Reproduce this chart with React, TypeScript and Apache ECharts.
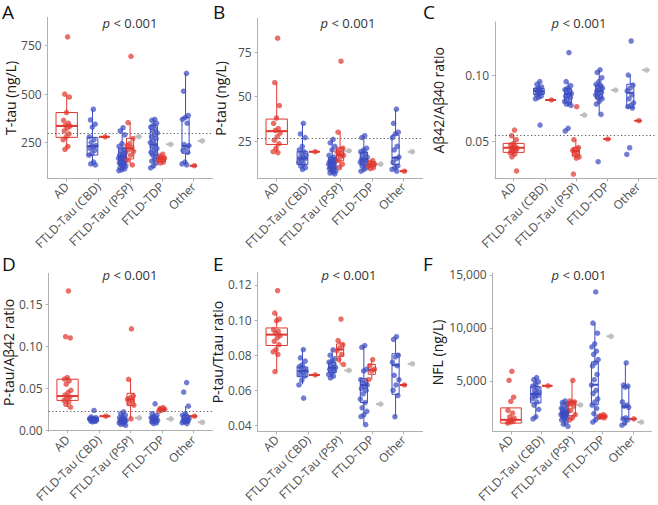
import React, { useEffect, useRef } from "react";
import * as echarts from "echarts";

const categories = ["AD", "FTLD-Tau (CBD)", "FTLD-Tau (PSP)", "FTLD-TDP", "Other"];
const pText = "{i|p} < 0.001";

// ---------- Panel A: T-tau (ng/L) ----------
const tTauNeg: number[][] = [
  [],
  [422, 367, 345, 330, 280, 265, 250, 235, 228, 220, 210, 195, 185, 150, 140, 135],
  [327, 310, 290, 245, 230, 215, 205, 200, 190, 185, 180, 175, 170, 165, 160, 155, 150, 145, 140, 135, 130, 125, 120, 115, 110, 105],
  [370, 365, 350, 340, 330, 320, 310, 300, 290, 280, 270, 260, 250, 240, 230, 220, 210, 200, 195, 185, 175, 165, 155, 145, 130, 120],
  [607, 515, 390, 380, 370, 350, 240, 235, 225, 210, 200, 150, 140, 135],
];
const tTauPos: number[][] = [
  [795, 500, 485, 405, 365, 350, 340, 335, 325, 310, 295, 280, 265, 230, 215],
  [280],
  [695, 353, 270, 245, 235, 225, 215, 205, 185, 160, 135],
  [190, 180, 170, 165, 160, 150, 145],
  [131],
];
const tTauUnk: number[][] = [[], [], [281], [241], [259]];
const tTauNegBox = [null, [131, 186, 232, 277, 422], [104, 138, 178, 221, 327], [118, 186, 240, 338, 370], [135, 195, 233, 379, 607]];
const tTauPosBox = [[212, 277, 336, 405, 500], null, [135, 166, 221, 272, 353], [140, 152, 166, 178, 190], null];
const tTauCutoff = 300;
const tTauTicks = [250, 500, 750];

// ---------- Panel B: P-tau (ng/L) ----------
const pTauNeg: number[][] = [
  [],
  [35, 29, 27, 22, 20, 19, 18, 17, 16, 15.5, 15, 14, 13, 12, 11, 10, 9],
  [26, 24, 22, 20, 17, 16, 15, 14.5, 14, 13.5, 13, 12.5, 12, 11.5, 11, 10.5, 10, 9.5, 9, 8.5, 8, 7.5, 7, 6.5],
  [28, 27, 21, 20, 19, 18, 17, 16, 15, 14.5, 14, 13.5, 13, 12, 11, 10, 9, 8],
  [43, 35, 30, 29, 27, 22, 20, 16, 15, 13, 11, 10, 9, 8],
];
const pTauPos: number[][] = [
  [83, 58, 45, 38, 35, 32, 31, 29.5, 27.5, 25.5, 23.5, 21, 19, 18.5],
  [19],
  [70, 30, 21, 20, 19, 18, 17.5, 17, 16, 14, 12, 10],
  [14, 13, 12, 11.5, 11, 10, 9.5],
  [8],
];
const pTauUnk: number[][] = [[], [], [19.5], [12], [19]];
const pTauNegBox = [null, [9, 11.8, 15.2, 19, 35], [6.5, 9.6, 13, 15.6, 26], [8, 11.5, 14.7, 18.6, 28], [8, 11.8, 15.6, 28.4, 43]];
const pTauPosBox = [[18.5, 23.1, 30.6, 37.4, 58], null, [10, 13.9, 17.1, 21.2, 30], [9.5, 10.5, 11.8, 13.3, 14], null];
const pTauCutoff = 26.5;
const pTauTicks = [25, 50, 75];

// ---------- Panel C: Aβ42/Aβ40 ratio ----------
const abNeg: number[][] = [
  [],
  [0.095, 0.093, 0.091, 0.09, 0.089, 0.088, 0.0875, 0.087, 0.086, 0.085, 0.084, 0.083, 0.082, 0.0621],
  [0.117, 0.095, 0.092, 0.09, 0.089, 0.088, 0.087, 0.086, 0.085, 0.084, 0.083, 0.082, 0.08, 0.079, 0.078, 0.077, 0.0596, 0.0576],
  [0.104, 0.102, 0.098, 0.095, 0.093, 0.092, 0.091, 0.09, 0.089, 0.088, 0.087, 0.086, 0.085, 0.084, 0.083, 0.082, 0.08, 0.078, 0.0702, 0.0343],
  [0.1258, 0.1, 0.0924, 0.09, 0.088, 0.085, 0.082, 0.079, 0.077, 0.076, 0.075, 0.0449, 0.0399],
];
const abPos: number[][] = [
  [0.0583, 0.054, 0.051, 0.048, 0.047, 0.046, 0.045, 0.0445, 0.044, 0.0435, 0.043, 0.042, 0.041, 0.04, 0.038, 0.0273],
  [0.0811],
  [0.076, 0.051, 0.045, 0.044, 0.043, 0.041, 0.04, 0.038, 0.037, 0.025],
  [0.0515],
  [0.0654],
];
const abUnk: number[][] = [[], [], [0.0697], [0.0886], [0.1038]];
const abNegBox = [null, [0.082, 0.0853, 0.0879, 0.0899, 0.095], [0.076, 0.0793, 0.0856, 0.0899, 0.095], [0.0702, 0.0823, 0.088, 0.0924, 0.104], [0.075, 0.0752, 0.0866, 0.093, 0.1]];
const abPosBox = [[0.038, 0.0414, 0.0449, 0.0482, 0.054], null, [0.037, 0.0386, 0.0424, 0.0449, 0.051], null, null];
const abCutoff = 0.054;
const abTicks = [0.05, 0.1];

// ---------- Panel D: P-tau/Aβ42 ratio ----------
const ptabNeg: number[][] = [
  [],
  [0.0236, 0.016, 0.015, 0.014, 0.0135, 0.013, 0.0125, 0.012, 0.0115, 0.011, 0.0105, 0.01],
  [0.022, 0.02, 0.018, 0.016, 0.015, 0.014, 0.013, 0.012, 0.0115, 0.011, 0.0105, 0.01, 0.009, 0.008, 0.007, 0.006],
  [0.0316, 0.02, 0.018, 0.016, 0.015, 0.014, 0.013, 0.012, 0.011, 0.01, 0.009, 0.008],
  [0.0568, 0.0456, 0.0288, 0.02, 0.018, 0.016, 0.015, 0.014, 0.013, 0.012, 0.011, 0.01, 0.009, 0.008],
];
const ptabPos: number[][] = [
  [0.166, 0.1116, 0.11, 0.0628, 0.061, 0.0588, 0.055, 0.0476, 0.045, 0.042, 0.0396, 0.0376, 0.0356, 0.0336, 0.031, 0.0276],
  [0.0168],
  [0.1208, 0.0608, 0.041, 0.039, 0.037, 0.035, 0.033, 0.03, 0.0136],
  [0.027, 0.026, 0.025, 0.024, 0.023],
  [0.0168],
];
const ptabUnk: number[][] = [[], [], [0.0148], [0.0136], [0.0096]];
const ptabNegBox = [null, [0.01, 0.0116, 0.0136, 0.0156, 0.016], [0.006, 0.0088, 0.0116, 0.0148, 0.022], [0.008, 0.0088, 0.0128, 0.0168, 0.021], [0.008, 0.0088, 0.0128, 0.018, 0.0288]];
const ptabPosBox = [[0.0276, 0.0356, 0.0408, 0.0608, 0.0628], null, [0.0136, 0.0296, 0.0368, 0.044, 0.0608], [0.023, 0.0236, 0.0248, 0.0265, 0.027], null];
const ptabCutoff = 0.0224;
const ptabTicks = [0, 0.05, 0.1, 0.15];

// ---------- Panel E: P-tau/Ttau ratio ----------
const ratioNeg: number[][] = [
  [],
  [0.0832, 0.0785, 0.0766, 0.0745, 0.0735, 0.0725, 0.0715, 0.0709, 0.07, 0.069, 0.068, 0.0657, 0.063, 0.0555],
  [0.083, 0.08, 0.078, 0.077, 0.076, 0.075, 0.074, 0.073, 0.0725, 0.072, 0.071, 0.07, 0.069, 0.068, 0.067],
  [0.0855, 0.0845, 0.072, 0.071, 0.066, 0.065, 0.064, 0.063, 0.062, 0.061, 0.06, 0.058, 0.055, 0.053, 0.05, 0.048, 0.046, 0.045, 0.0404],
  [0.0905, 0.089, 0.08, 0.079, 0.076, 0.074, 0.0685, 0.066, 0.063, 0.06, 0.057, 0.0449],
];
const ratioPos: number[][] = [
  [0.1168, 0.104, 0.1006, 0.0996, 0.0945, 0.0936, 0.0926, 0.0911, 0.0898, 0.0879, 0.086, 0.0832, 0.0819, 0.0804, 0.0706],
  [0.0687],
  [0.1006, 0.0883, 0.086, 0.0842, 0.0826, 0.0804, 0.0775, 0.0747],
  [0.0775, 0.074, 0.072, 0.071, 0.066],
  [0.063],
];
const ratioUnk: number[][] = [[], [], [0.0713], [0.0521], [0.0751]];
const ratioNegBox = [null, [0.0634, 0.0677, 0.0709, 0.0732, 0.0832], [0.0672, 0.07, 0.0728, 0.076, 0.0832], [0.0404, 0.053, 0.063, 0.0666, 0.0855], [0.0449, 0.0577, 0.0743, 0.0808, 0.0905]];
const ratioPosBox = [[0.0706, 0.0855, 0.0917, 0.0955, 0.104], null, [0.0747, 0.0794, 0.0832, 0.0864, 0.0883], [0.066, 0.0691, 0.0717, 0.0747, 0.0775], null];
const ratioTicks = [0.04, 0.06, 0.08, 0.1, 0.12];

// ---------- Panel F: NFL (ng/L) ----------
const nflNeg: number[][] = [
  [],
  [5300, 5100, 4900, 4700, 4500, 4300, 4100, 3900, 3800, 3700, 3600, 3500, 3300, 3000, 2700, 2300, 1600, 1400],
  [3100, 2950, 2800, 2600, 2400, 2300, 2200, 2100, 2000, 1950, 1900, 1850, 1800, 1700, 1600, 1500, 1400, 1300, 1100, 900, 700],
  [13400, 10450, 9500, 8500, 8200, 7800, 7500, 7000, 6700, 6400, 5600, 5100, 4600, 4100, 3800, 3300, 3000, 2700, 2400, 1900, 1600, 1300, 1100],
  [6700, 4600, 4500, 4400, 3000, 2700, 2600, 2500, 1500, 1400, 1300, 1000, 800],
];
const nflPos: number[][] = [
  [5900, 5050, 3450, 3050, 2200, 1950, 1600, 1450, 1300, 1200, 1150, 1100, 1000],
  [4530],
  [5050, 3100, 3000, 2900, 2800, 2600, 2200, 1800, 1500, 1300],
  [1800, 1700, 1650, 1600, 1550, 1500],
  [1400],
];
const nflUnk: number[][] = [[], [], [2720], [9200], [1100]];
const nflNegBox = [null, [1400, 2900, 3750, 4440, 5300], [700, 1560, 2030, 2880, 3100], [1100, 2750, 4630, 6780, 10450], [800, 1400, 2560, 4440, 6700]];
const nflPosBox = [[1000, 1000, 1310, 2440, 2440], null, [1300, 1700, 2950, 3080, 5050], [1500, 1500, 1625, 1720, 1800], null];
const nflTicks = [5000, 10000, 15000];

const RED = "#e0382f";
const BLUE = "#3b4cc0";
const GREY = "#bdbdbd";
const FONT = "Open Sans";

const panels = [
  { letter: "A", yName: "T-tau (ng/L)", neg: tTauNeg, pos: tTauPos, unk: tTauUnk, negBox: tTauNegBox, posBox: tTauPosBox, ref: tTauCutoff, ticks: tTauTicks, fmt: (v: number) => String(v),
    left: 47.7, top: 17.3, width: 164.8, bottom: 178.5, yMin: 65, yMax: 896, nameGap: 30, pX: 130, pY: 25, lx: 2, ly: 2 },
  { letter: "B", yName: "P-tau (ng/L)", neg: pTauNeg, pos: pTauPos, unk: pTauUnk, negBox: pTauNegBox, posBox: pTauPosBox, ref: pTauCutoff, ticks: pTauTicks, fmt: (v: number) => String(v),
    left: 257.7, top: 18.3, width: 164.8, bottom: 178.5, yMin: 3.9, yMax: 94.2, nameGap: 30, pX: 348, pY: 25, lx: 213, ly: 2 },
  { letter: "C", yName: "Aβ42/Aβ40 ratio", neg: abNeg, pos: abPos, unk: abUnk, negBox: abNegBox, posBox: abPosBox, ref: abCutoff, ticks: abTicks, fmt: (v: number) => v.toFixed(2),
    left: 495, top: 22, width: 161.7, bottom: 178.5, yMin: 0.0216, yMax: 0.1402, nameGap: 50, pX: 579, pY: 25, lx: 423, ly: 2 },
  { letter: "D", yName: "P-tau/Aβ42 ratio", neg: ptabNeg, pos: ptabPos, unk: ptabUnk, negBox: ptabNegBox, posBox: ptabPosBox, ref: ptabCutoff, ticks: ptabTicks, fmt: (v: number) => v.toFixed(2),
    left: 47.7, top: 273.3, width: 164.8, bottom: 432.5, yMin: -0.0014, yMax: 0.187, nameGap: 30, pX: 130, pY: 277, lx: 2, ly: 254 },
  { letter: "E", yName: "P-tau/Ttau ratio", neg: ratioNeg, pos: ratioPos, unk: ratioUnk, negBox: ratioNegBox, posBox: ratioPosBox, ref: null, ticks: ratioTicks, fmt: (v: number) => v.toFixed(2),
    left: 257.7, top: 272.7, width: 164.8, bottom: 432.5, yMin: 0.0365, yMax: 0.127, nameGap: 30, pX: 349, pY: 277, lx: 213, ly: 254 },
  { letter: "F", yName: "NFL (ng/L)", neg: nflNeg, pos: nflPos, unk: nflUnk, negBox: nflNegBox, posBox: nflPosBox, ref: null, ticks: nflTicks, fmt: (v: number) => v.toLocaleString("en-US"),
    left: 492.7, top: 273.3, width: 158.6, bottom: 432.5, yMin: 210, yMax: 15160, nameGap: 48, pX: 579, pY: 277, lx: 423, ly: 254 },
];

const jitter = (i: number) => (((i + 1) * 0.6180339887) % 1) - 0.5;

function boxRenderer(color: string) {
  return (params: any, api: any) => {
    const x = api.value(0);
    const w = api.value(6);
    const lo = api.coord([x, api.value(1)]);
    const q1 = api.coord([x, api.value(2)]);
    const med = api.coord([x, api.value(3)]);
    const q3 = api.coord([x, api.value(4)]);
    const hi = api.coord([x, api.value(5)]);
    const l = api.coord([x - w / 2, api.value(3)])[0];
    const r = api.coord([x + w / 2, api.value(3)])[0];
    const st = { stroke: color, lineWidth: 1, fill: null };
    return {
      type: "group",
      children: [
        { type: "line", shape: { x1: hi[0], y1: hi[1], x2: q3[0], y2: q3[1] }, style: st },
        { type: "line", shape: { x1: q1[0], y1: q1[1], x2: lo[0], y2: lo[1] }, style: st },
        { type: "rect", shape: { x: l, y: q3[1], width: r - l, height: q1[1] - q3[1] }, style: { stroke: color, lineWidth: 1, fill: "rgba(255,255,255,0.35)" } },
        { type: "line", shape: { x1: l, y1: med[1], x2: r, y2: med[1] }, style: { stroke: color, lineWidth: 2 } },
      ],
    };
  };
}

function buildOption() {
  const grid: any[] = [];
  const xAxis: any[] = [];
  const yAxis: any[] = [];
  const series: any[] = [];
  const graphic: any[] = [];
  const title: any[] = [];

  panels.forEach((p, gi) => {
    grid.push({ left: p.left, top: p.top, width: p.width, height: p.bottom - p.top, containLabel: false });
    xAxis.push({
      type: "value", gridIndex: gi, min: 0.4, max: 5.6,
      axisLine: { show: true, lineStyle: { color: "#b0b0b0", width: 1 } },
      axisTick: { show: true, length: 3, customValues: [1, 2, 3, 4, 5], lineStyle: { color: "#b0b0b0" } },
      axisLabel: { customValues: [1, 2, 3, 4, 5], formatter: (v: number) => categories[Math.round(v) - 1] ?? "", rotate: 45, margin: 6, fontSize: 12, color: "#4d4d4d", fontFamily: FONT },
      splitLine: { show: false },
    });
    yAxis.push({
      type: "value", gridIndex: gi, min: p.yMin, max: p.yMax,
      name: p.yName, nameLocation: "middle", nameRotate: 90, nameGap: p.nameGap,
      nameTextStyle: { fontSize: 14, color: "#1a1a1a", fontFamily: FONT },
      axisLine: { show: true, lineStyle: { color: "#b0b0b0", width: 1 } },
      axisTick: { show: true, length: 3, customValues: p.ticks, lineStyle: { color: "#b0b0b0" } },
      axisLabel: { customValues: p.ticks, formatter: p.fmt, margin: 6, fontSize: 12, color: "#4d4d4d", fontFamily: FONT },
      splitLine: { show: false },
    });

    const boxes: Record<string, any[]> = { neg: [], pos: [], unk: [] };
    const pts: Record<string, any[]> = { neg: [], pos: [], unk: [] };
    for (let c = 0; c < 5; c++) {
      const groups: string[] = [];
      if (p.neg[c].length) groups.push("neg");
      if (p.pos[c].length) groups.push("pos");
      if (p.unk[c].length) groups.push("unk");
      const n = groups.length;
      const slot = 0.75 / n;
      groups.forEach((g, k) => {
        const cx = c + 1 - 0.375 + slot * (k + 0.5);
        const vals: number[] = (p as any)[g][c];
        const given = g === "neg" ? p.negBox[c] : g === "pos" ? p.posBox[c] : null;
        const stats = given ?? [vals[0], vals[0], vals[0], vals[0], vals[0]];
        boxes[g].push([cx, ...stats, slot * 0.9]);
        vals.forEach((v, i) => pts[g].push([cx + jitter(i) * 0.24, v]));
      });
    }
    const colors: Record<string, string> = { neg: BLUE, pos: RED, unk: GREY };
    (["neg", "pos", "unk"] as const).forEach((g) => {
      series.push({
        type: "custom", xAxisIndex: gi, yAxisIndex: gi, renderItem: boxRenderer(colors[g]),
        data: boxes[g], encode: { x: 0, y: [1, 2, 3, 4, 5] }, silent: true, z: 2,
      });
    });
    (["neg", "pos", "unk"] as const).forEach((g, k) => {
      const s: any = {
        type: "scatter", xAxisIndex: gi, yAxisIndex: gi, data: pts[g], symbolSize: 5.5, z: 3,
        itemStyle: { color: colors[g], opacity: g === "unk" ? 0.9 : 0.72 }, silent: true,
      };
      if (k === 0 && p.ref !== null) {
        s.markLine = {
          silent: true, symbol: "none", precision: 6, label: { show: false },
          lineStyle: { color: "#555", type: [1.2, 2.4], width: 1 },
          data: [{ yAxis: p.ref }],
        };
      }
      series.push(s);
    });

    title.push({
      text: pText, left: p.pX, top: p.pY - 9, textAlign: "center", padding: 0,
      textStyle: { fontSize: 13, fontWeight: "normal", fontFamily: FONT, color: "#333",
        rich: { i: { fontStyle: "italic", fontWeight: "normal", fontSize: 13, fontFamily: FONT, color: "#333" } } },
    });
    graphic.push({
      type: "text", x: p.lx, y: p.ly,
      style: { text: p.letter, fontSize: 19, fontWeight: "normal", fontFamily: FONT, fill: "#111" },
    });
  });

  return { animation: false, backgroundColor: "#ffffff", textStyle: { fontFamily: FONT }, title, grid, xAxis, yAxis, series, graphic };
}

export default function App() {
  const ref = useRef<HTMLDivElement>(null);
  useEffect(() => {
    if (!ref.current) return;
    const chart = echarts.init(ref.current, undefined, { renderer: "svg" });
    chart.setOption(buildOption() as any);
    return () => chart.dispose();
  }, []);
  return <div ref={ref} style={{ position: "fixed", left: 0, top: 0, width: 658, height: 505 }} />;
}
